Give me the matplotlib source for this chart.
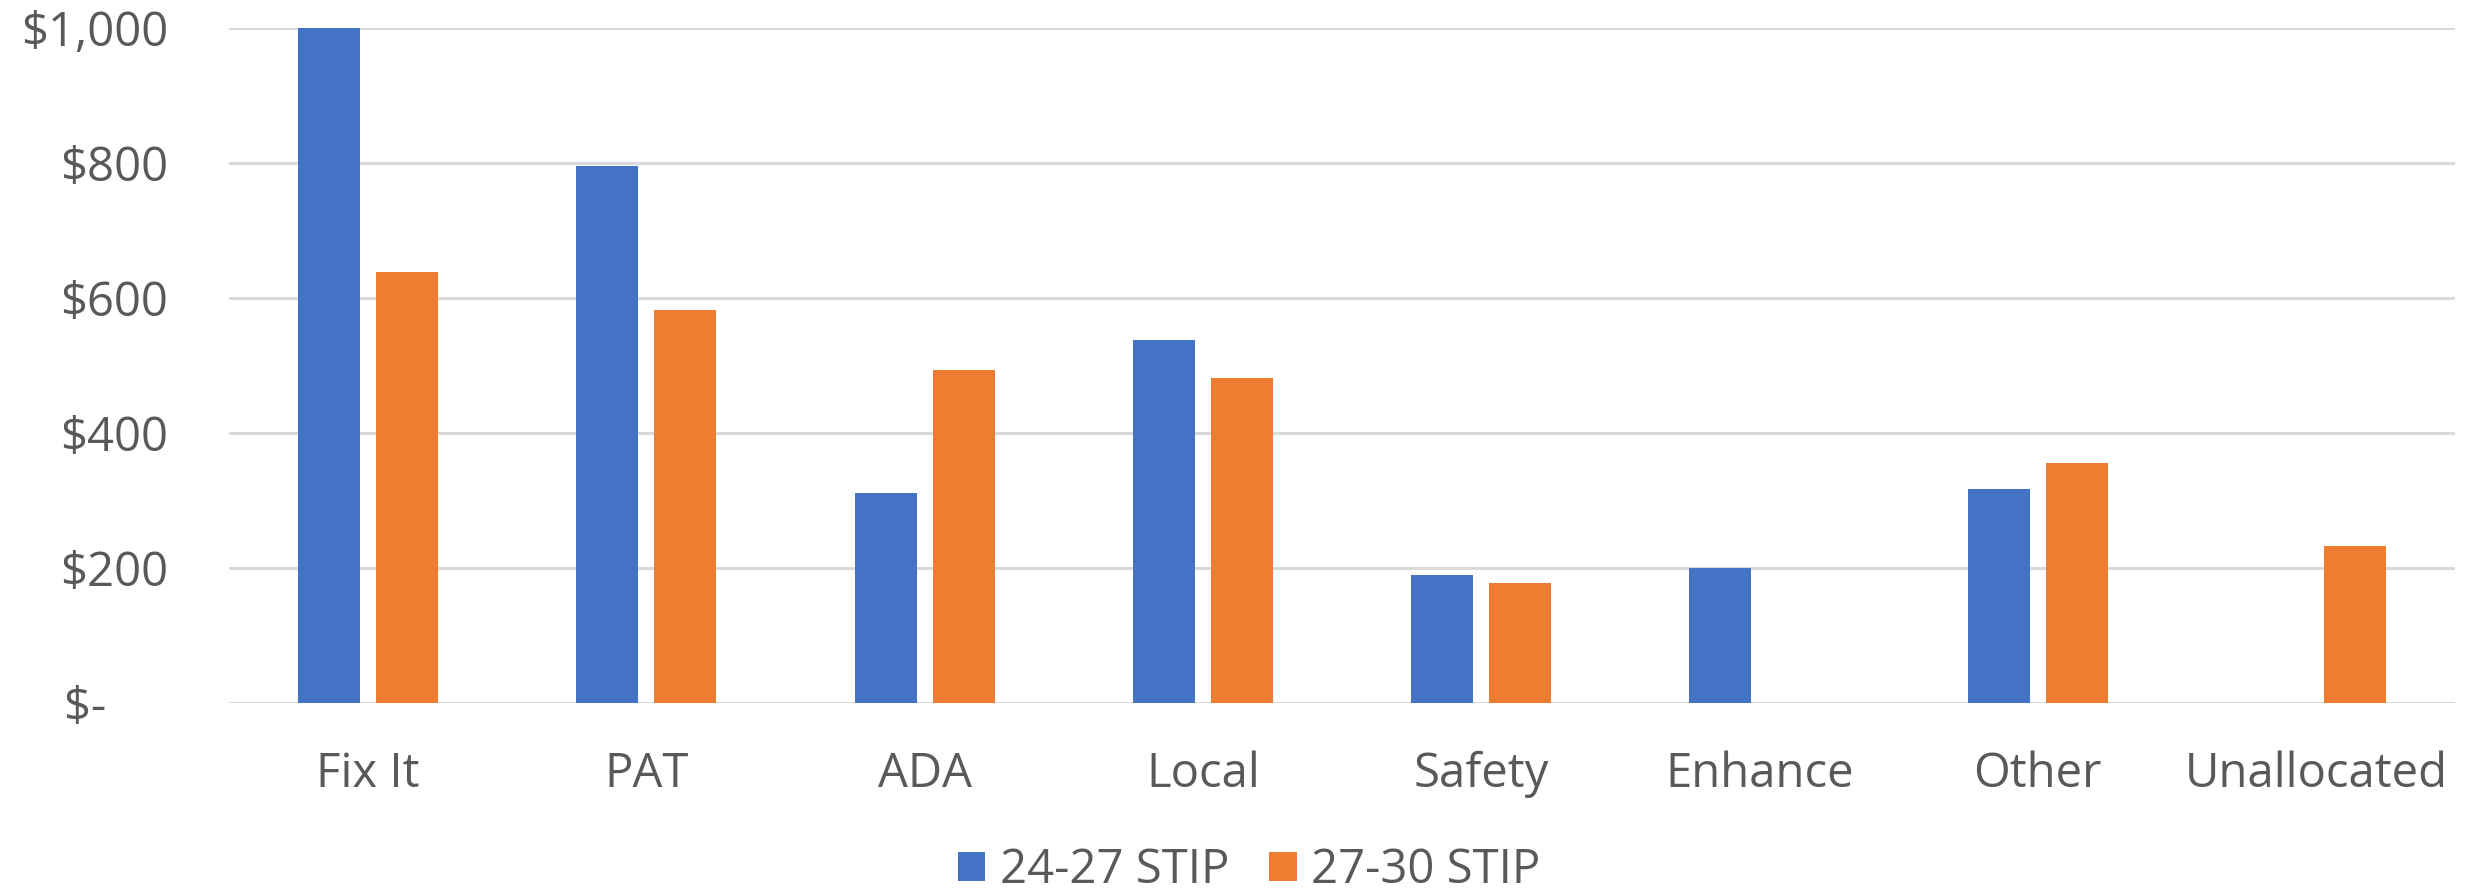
import matplotlib
matplotlib.use("Agg")
import matplotlib.pyplot as plt
import numpy as np

categories = ["Fix It", "PAT", "ADA", "Local", "Safety", "Enhance", "Other", "Unallocated"]
stip_24_27 = [1000, 795, 311, 537, 189, 200, 317, 0]
stip_27_30 = [638, 582, 493, 481, 178, 0, 355, 232]
series_names = ["24-27 STIP", "27-30 STIP"]
y_ticks = [0, 200, 400, 600, 800, 1000]
y_tick_labels = ["$-     ", "$200", "$400", "$600", "$800", "$1,000"]

BLUE = "#4472C4"
ORANGE = "#ED7D31"
TEXT = "#595959"
GRID = "#D9D9D9"
FS = 34

plt.rcParams["font.family"] = ["Open Sans", "DejaVu Sans"]

fig = plt.figure(figsize=(24.76, 8.92), dpi=100)
ax = fig.add_axes([0.0925, 0.212, 0.899, 0.7566])

x = np.arange(len(categories))
w = 0.223
off = 0.14
b1 = ax.bar(x - off, stip_24_27, width=w, color=BLUE, label=series_names[0], zorder=3)
b2 = ax.bar(x + off, stip_27_30, width=w, color=ORANGE, label=series_names[1], zorder=3)

ax.set_xlim(-0.5, len(categories) - 0.5)
ax.set_ylim(0, 1000)
ax.set_yticks(y_ticks)
ax.set_yticklabels(y_tick_labels)
ax.set_xticks(x)
ax.set_xticklabels(categories)

ax.yaxis.grid(True, color=GRID, linewidth=2.2, zorder=0)
ax.set_axisbelow(True)
for s in ax.spines.values():
    s.set_visible(False)
ax.tick_params(axis="both", length=0, colors=TEXT, labelsize=FS)
ax.tick_params(axis="y", pad=44)
ax.tick_params(axis="x", pad=34)

leg = fig.legend(handles=[b1, b2], labels=series_names, loc="center",
                 bbox_to_anchor=(0.5045, 0.024), ncol=2, frameon=False,
                 fontsize=FS, handlelength=0.58, handleheight=0.58,
                 handletextpad=0.3, columnspacing=0.85)
for t in leg.get_texts():
    t.set_color(TEXT)

fig.savefig("out.png", dpi=100)
